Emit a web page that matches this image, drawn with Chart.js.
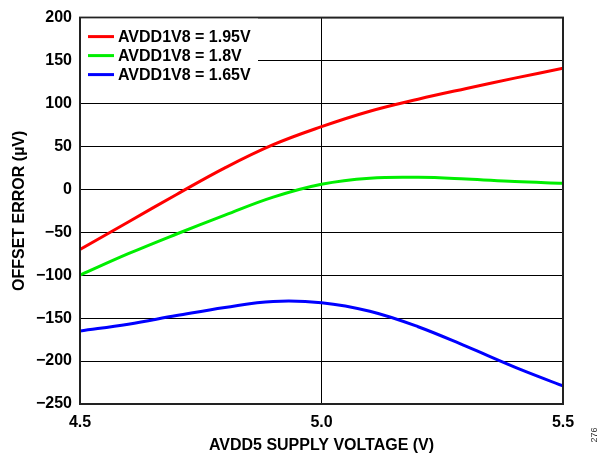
<!DOCTYPE html>
<html>
<head>
<meta charset="utf-8">
<script src="https://cdn.jsdelivr.net/npm/chart.js@4.4.1/dist/chart.umd.min.js"></script>
<style>
  html, body { margin: 0; padding: 0; background: #fff; }
  canvas { display: block; }
</style>
</head>
<body>
<canvas id="c" width="606" height="455"></canvas>
<script>
// Supply voltage sweep (V)
const supplyVoltage = [4.5, 4.6, 4.7, 4.8, 4.9, 5.0, 5.1, 5.2, 5.3, 5.4, 5.5];
// Offset error (µV) for each AVDD1V8 setting
const offset195 = [-70, -38, -6, 25, 52, 73, 91, 105, 117.5, 129.5, 141];
const offset180 = [-100, -75, -52, -30, -9, 6, 13, 14, 12, 9, 7];
const offset165 = [-165, -157, -147, -137.5, -130.5, -132, -142, -160, -183, -207, -229];

const seriesLabels = ['AVDD1V8 = 1.95V', 'AVDD1V8 = 1.8V', 'AVDD1V8 = 1.65V'];
const seriesColors = ['#ff0000', '#00ee00', '#0000ff'];
const xTitle = 'AVDD5 SUPPLY VOLTAGE (V)';
const yTitle = 'OFFSET ERROR (µV)';
const figureNumber = '276';

const FONT = '"Liberation Sans", Arial, sans-serif';
const TEXT_SIZE = 16;

function toPoints(values) {
  return supplyVoltage.map((v, i) => ({ x: v, y: values[i] }));
}

// Frame around the plot area
const framePlugin = {
  id: 'frame',
  afterDatasetsDraw(chart) {
    const { ctx, chartArea: a } = chart;
    ctx.save();
    ctx.strokeStyle = '#222';
    ctx.lineWidth = 2;
    ctx.strokeRect(a.left, a.top, a.right - a.left, a.bottom - a.top);
    ctx.restore();
  }
};

// Legend on a white box in the top-left corner of the plot
const boxLegendPlugin = {
  id: 'boxLegend',
  afterDatasetsDraw(chart) {
    const { ctx, chartArea: a } = chart;
    ctx.save();
    ctx.fillStyle = '#fff';
    ctx.fillRect(a.left + 1, a.top + 1, 177, 68);
    ctx.font = 'bold ' + TEXT_SIZE + 'px ' + FONT;
    ctx.textBaseline = 'middle';
    ctx.textAlign = 'left';
    chart.data.datasets.forEach((ds, i) => {
      const y = a.top + 19 + i * 19;
      ctx.strokeStyle = ds.borderColor;
      ctx.lineWidth = 3;
      ctx.beginPath();
      ctx.moveTo(a.left + 8, y);
      ctx.lineTo(a.left + 34, y);
      ctx.stroke();
      ctx.fillStyle = '#000';
      ctx.fillText(ds.label, a.left + 38, y + 1);
    });
    ctx.restore();
  }
};

// Small figure number at the lower right edge
const figNumberPlugin = {
  id: 'figNumber',
  afterDraw(chart) {
    const { ctx } = chart;
    ctx.save();
    ctx.translate(595, 435);
    ctx.rotate(-Math.PI / 2);
    ctx.font = '9px ' + FONT;
    ctx.fillStyle = '#333';
    ctx.textAlign = 'center';
    ctx.textBaseline = 'middle';
    ctx.fillText(figureNumber, 0, 0);
    ctx.restore();
  }
};

const axisFont = { family: FONT, size: TEXT_SIZE, weight: 'bold' };

new Chart(document.getElementById('c'), {
  type: 'line',
  data: {
    datasets: [offset195, offset180, offset165].map((vals, i) => ({
      label: seriesLabels[i],
      data: toPoints(vals),
      borderColor: seriesColors[i],
      backgroundColor: seriesColors[i],
      borderWidth: 3,
      pointRadius: 0,
      tension: 0.4,
      fill: false
    }))
  },
  options: {
    responsive: false,
    animation: false,
    events: [],
    layout: { padding: { left: 0, top: 17, right: 43, bottom: 0 } },
    plugins: {
      legend: { display: false },
      tooltip: { enabled: false }
    },
    scales: {
      x: {
        type: 'linear',
        min: 4.5,
        max: 5.5,
        afterFit(s) { s.height = 51; },
        ticks: {
          stepSize: 0.5,
          padding: 9,
          color: '#000',
          font: axisFont,
          callback: v => Number(v).toFixed(1)
        },
        grid: { color: '#000', lineWidth: 1, drawTicks: false },
        border: { color: '#000', width: 1 },
        title: {
          display: true,
          text: xTitle,
          color: '#000',
          font: axisFont,
          padding: { top: 0, bottom: 0 }
        }
      },
      y: {
        min: -250,
        max: 200,
        afterFit(s) { s.width = 80; },
        ticks: {
          stepSize: 50,
          padding: 8,
          color: '#000',
          font: axisFont,
          callback: v => String(v).replace('-', '\u2212')
        },
        grid: { color: '#000', lineWidth: 1, drawTicks: false },
        border: { color: '#000', width: 1 },
        title: {
          display: true,
          text: yTitle,
          color: '#000',
          font: axisFont,
          padding: { top: 10, bottom: 0 }
        }
      }
    }
  },
  plugins: [framePlugin, boxLegendPlugin, figNumberPlugin]
});
</script>
</body>
</html>
